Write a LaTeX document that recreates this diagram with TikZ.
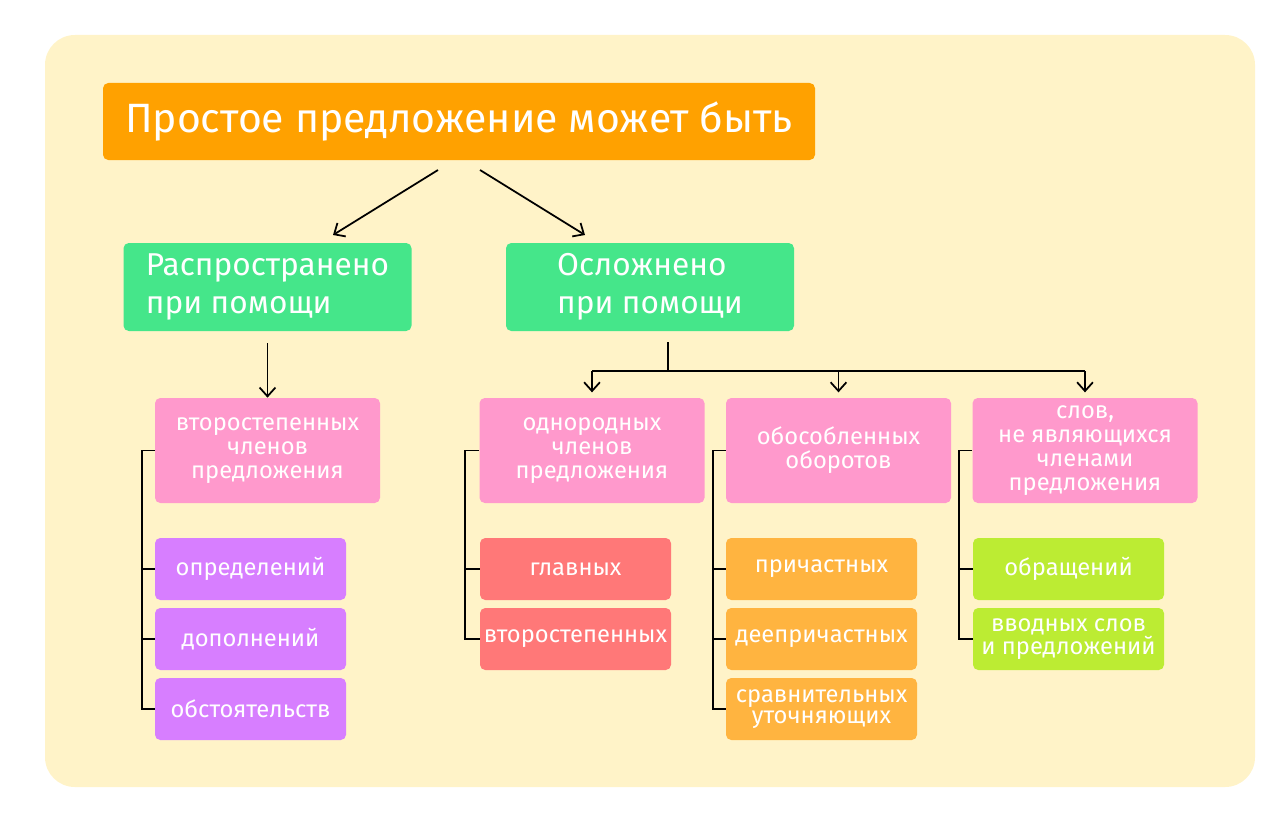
\documentclass[tikz,border=0pt]{standalone}
\usepackage{fontspec}
\setmainfont{Fira Sans}
\usetikzlibrary{arrows.meta}
\definecolor{bgyellow}{RGB}{255,243,200}
\definecolor{titleorange}{RGB}{255,161,0}
\definecolor{headgreen}{RGB}{69,230,138}
\definecolor{grouppink}{RGB}{255,153,204}
\definecolor{itempurple}{RGB}{215,126,255}
\definecolor{itemred}{RGB}{255,120,120}
\definecolor{itemorange}{RGB}{255,180,64}
\definecolor{itemlime}{RGB}{188,236,51}

\begin{document}
\begin{tikzpicture}[
  x=0.02cm, y=-0.02cm,
  box/.style={rounded corners=3pt, inner sep=0pt, text=white, align=center},
  title/.style={box, fill=titleorange, minimum width=712*0.02cm,
                minimum height=77*0.02cm, font=\fontsize{23.3}{28}\selectfont},
  head/.style={box, fill=headgreen, align=left, minimum width=288*0.02cm,
               minimum height=88*0.02cm, font=\fontsize{18}{21.5}\selectfont},
  group/.style={box, fill=grouppink, minimum width=225*0.02cm,
                minimum height=105*0.02cm, font=\fontsize{13.5}{13.6}\selectfont},
  item/.style={box, minimum width=191*0.02cm, minimum height=62*0.02cm,
               font=\fontsize{13.5}{12}\selectfont},
  arrow/.style={-{Straight Barb[length=5pt, width=9pt]}, line width=1pt},
  link/.style={line width=1pt}
]
  \useasboundingbox (0,0) rectangle (1287,821);
  \fill[bgyellow, rounded corners=17pt] (45,35) rectangle (1255,787);

  % top level
  \node[title] (main) at (459,121.5) {Простое предложение может быть};
  \node[head] (spread) at (267.5,287) {Распространено\\при помощи};
  \node[head] (compl) at (650,287) {Осложнено\\при помощи};

  \draw[arrow] (438,170) coordinate (m1) -- (333,235) coordinate (s1);
  \draw[arrow] (480,170) coordinate (m2) -- (585,235) coordinate (c1);

  % groups
  \node[group] (second) at (267.5,450.5) {второстепенных\\членов\\предложения};
  \node[group] (homog)  at (592,450.5) {однородных\\членов\\предложения};
  \node[group] (separ)  at (838.5,450.5) {обособленных\\оборотов};
  \node[group] (words)  at (1085,450.5) {слов,\\не являющихся\\членами\\предложения};

  \draw[arrow] (spread.south) ++(0,12) -- (second.north);
  \draw[link] (compl.south) ++(18,11) coordinate (fork) -- ++(0,29) coordinate (bar);
  \draw[link] (homog.north |- bar) -- (words.north |- bar);
  \foreach \g in {homog, separ, words}
    \draw[arrow] (\g.north |- bar) -- ++(0,21);

  % items
  \node[item, fill=itempurple] (defin) at (250.5,569) {определений};
  \node[item, fill=itempurple] (addit) at (250.5,639) {дополнений};
  \node[item, fill=itempurple] (circ)  at (250.5,709) {обстоятельств};

  \node[item, fill=itemred] (mainm) at (575.5,569) {главных};
  \node[item, fill=itemred] (secm)  at (575.5,639) {второстепенных};

  \node[item, fill=itemorange] (part)  at (821.5,569) {причастных};
  \node[item, fill=itemorange] (gerund) at (821.5,639) {деепричастных};
  \node[item, fill=itemorange] (compar) at (821.5,709) {сравнительных\\уточняющих};

  \node[item, fill=itemlime] (addr)  at (1068.5,569) {обращений};
  \node[item, fill=itemlime] (intro) at (1068.5,639) {вводных слов\\и предложений};

  % brackets
  \draw[link] (second.west) -- ++(-13,0) |- (circ.west);
  \draw[link] (defin.west) -- ++(-13,0);
  \draw[link] (addit.west) -- ++(-13,0);

  \draw[link] (homog.west) -- ++(-14,0) |- (secm.west);
  \draw[link] (mainm.west) -- ++(-14,0);

  \draw[link] (separ.west) -- ++(-13,0) |- (compar.west);
  \draw[link] (part.west) -- ++(-13,0);
  \draw[link] (gerund.west) -- ++(-13,0);

  \draw[link] (words.west) -- ++(-13,0) |- (intro.west);
  \draw[link] (addr.west) -- ++(-13,0);
\end{tikzpicture}
\end{document}
